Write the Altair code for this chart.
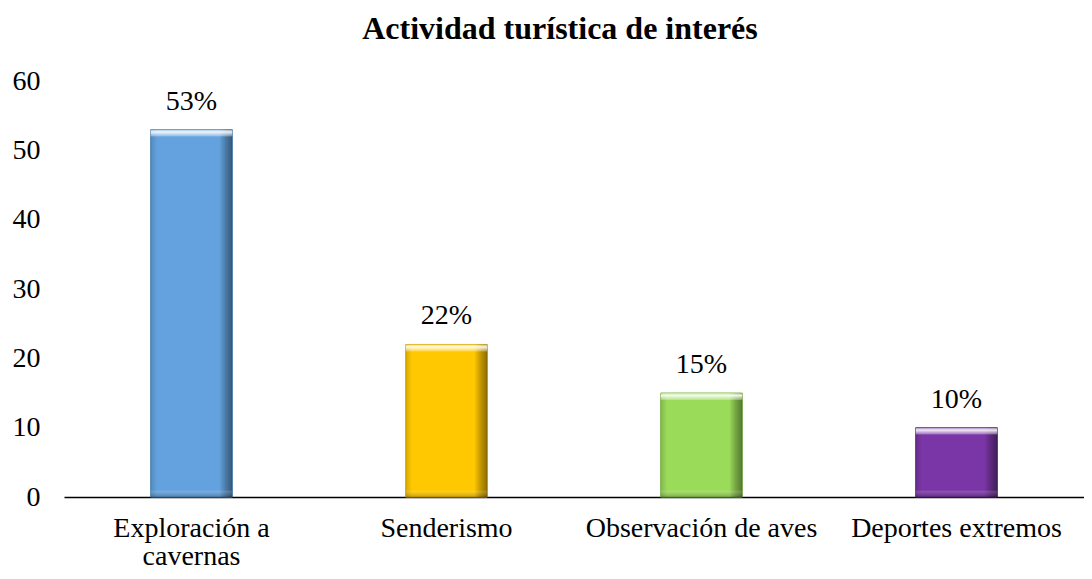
import altair as alt
import pandas as pd

categories = ["Exploración a cavernas", "Senderismo", "Observación de aves", "Deportes extremos"]
values = [53, 22, 15, 10]
colors = ["#63A2DE", "#FFC800", "#9BDB5A", "#7A36A6"]
edge_colors = ["#4F86BA", "#D9A800", "#7DB846", "#5E2885"]
y_ticks = [0, 10, 20, 30, 40, 50, 60]

df = pd.DataFrame({"cat": categories, "val": values})

FONT = "Liberation Serif"

x_enc = alt.X(
    "cat:N",
    sort=categories,
    scale=alt.Scale(paddingInner=0.68, paddingOuter=0.34),
    axis=alt.Axis(
        title=None, labelAngle=0, ticks=False, domain=True, domainColor="#000000",
        domainWidth=1.5, labelFont=FONT, labelFontSize=28, labelColor="#000000",
        labelPadding=17, labelLineHeight=28, labelLimit=400,
        labelExpr="datum.label == 'Exploración a cavernas' ? ['Exploración a', 'cavernas'] : datum.label",
    ),
)
y_scale = alt.Scale(domain=[0, 60], nice=False)

base = alt.Chart(df)

bars = base.mark_bar(strokeWidth=1).encode(
    x=x_enc,
    y=alt.Y(
        "val:Q", scale=y_scale,
        axis=alt.Axis(
            title=None, values=y_ticks, grid=False, domain=False, ticks=False,
            labelFont=FONT, labelFontSize=28, labelColor="#000000", labelPadding=24,
        ),
    ),
    color=alt.Color("cat:N", sort=categories, scale=alt.Scale(domain=categories, range=colors), legend=None),
    stroke=alt.Color("cat:N", sort=categories, scale=alt.Scale(domain=categories, range=edge_colors), legend=None),
)

side_shade = base.mark_bar(
    color={
        "gradient": "linear", "x1": 0, "x2": 1, "y1": 0, "y2": 0,
        "stops": [
            {"offset": 0, "color": "rgba(0,0,0,0.15)"},
            {"offset": 0.08, "color": "rgba(0,0,0,0)"},
            {"offset": 0.84, "color": "rgba(0,0,0,0)"},
            {"offset": 0.92, "color": "rgba(0,0,0,0.25)"},
            {"offset": 1, "color": "rgba(0,0,0,0.45)"},
        ],
    }
).encode(x=x_enc, y=alt.Y("val:Q", scale=y_scale))

top_hl = base.transform_calculate(top2="datum.val - 1.0").mark_bar(
    color={
        "gradient": "linear", "x1": 0, "x2": 0, "y1": 0, "y2": 1,
        "stops": [
            {"offset": 0, "color": "rgba(255,255,255,0.4)"},
            {"offset": 0.35, "color": "rgba(255,255,255,0.9)"},
            {"offset": 1, "color": "rgba(255,255,255,0.25)"},
        ],
    }
).encode(x=x_enc, y=alt.Y("val:Q", scale=y_scale), y2="top2:Q")

bot_sh = base.transform_calculate(b0="0", b1="0.9").mark_bar(
    color={
        "gradient": "linear", "x1": 0, "x2": 0, "y1": 0, "y2": 1,
        "stops": [
            {"offset": 0, "color": "rgba(255,255,255,0.15)"},
            {"offset": 1, "color": "rgba(0,0,0,0.2)"},
        ],
    }
).encode(x=x_enc, y=alt.Y("b1:Q", scale=y_scale), y2="b0:Q")

labels = base.transform_calculate(lbl="datum.val + '%'").mark_text(
    font=FONT, fontSize=28, color="#000000", dy=-20, baseline="alphabetic"
).encode(x=x_enc, y=alt.Y("val:Q", scale=y_scale), text="lbl:N")

chart = alt.layer(bars, side_shade, top_hl, bot_sh, labels).properties(
    width=1020,
    height=416,
    autosize=alt.AutoSizeParams(type="none"),
    padding={"left": 56, "top": 73, "right": 0, "bottom": 74},
    title=alt.TitleParams(
        "Actividad turística de interés", font=FONT, fontSize=32, fontWeight="bold",
        color="#000000", anchor="middle", offset=21, dx=-14,
    ),
).configure_view(stroke=None)

chart.save("out.html", embed_options={"renderer": "svg", "actions": False})
